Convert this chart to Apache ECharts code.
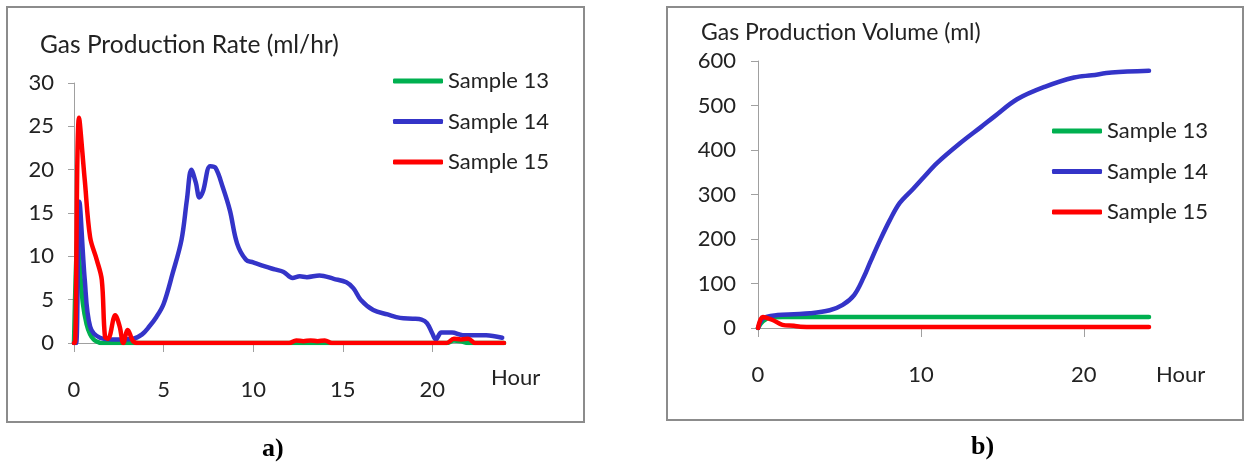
<!DOCTYPE html>
<html>
<head>
<meta charset="utf-8">
<script src="https://cdn.jsdelivr.net/npm/echarts@6/dist/echarts.min.js"></script>
<style>
html,body{margin:0;padding:0;background:#fff;}
#chart{width:1244px;height:468px;}
</style>
</head>
<body>
<div id="chart"></div>
<script>
// ---------- Data ----------
const seriesNames = ['Sample 13', 'Sample 14', 'Sample 15'];
const seriesColors = ['#00B050', '#3434C8', '#FF0000'];

// a) Gas production rate (ml/hr) vs hour
const rateHours13 = [0, 0.1, 0.2, 0.35, 0.5, 0.7, 0.9, 1.1, 1.3, 1.5, 3, 12, 20.8, 21.2, 21.6, 22, 24];
const rate13      = [0, 8, 12, 8, 4.5, 2.2, 1.0, 0.4, 0.15, 0, 0, 0, 0, 0.3, 0.2, 0, 0];

const rateHours14 = [0, 0.12, 0.3, 0.6, 0.9, 1.45, 2.2, 3.3, 3.8, 4.2, 4.6, 5.0, 5.5, 6.0, 6.3, 6.55, 6.8, 7.0, 7.2, 7.6, 7.9, 8.3, 8.7, 9.1, 9.6, 10, 10.7, 11.2, 11.7, 12.2, 12.6, 13.0, 13.7, 14.5, 15.2, 15.6, 16.0, 16.7, 17.5, 18.2, 18.9, 19.4, 19.7, 20.0, 20.2, 20.5, 21.1, 21.7, 22.5, 23.0, 23.9];
const rate14      = [0, 0, 16.3, 7.3, 1.9, 0.6, 0.4, 0.5, 1.0, 1.9, 3.0, 4.5, 8.0, 11.9, 16.5, 20.0, 18.5, 16.8, 17.5, 20.4, 20.2, 18.0, 15.3, 11.5, 9.6, 9.3, 8.8, 8.5, 8.2, 7.5, 7.7, 7.6, 7.8, 7.4, 7.0, 6.3, 5.0, 3.8, 3.3, 2.9, 2.8, 2.7, 2.3, 1.1, 0.4, 1.2, 1.2, 0.9, 0.9, 0.9, 0.6];

const rateHours15 = [0, 0.05, 0.28, 0.6, 0.9, 1.27, 1.55, 1.73, 1.9, 2.3, 2.55, 2.75, 3.0, 3.3, 3.6, 12.0, 12.4, 12.8, 13.2, 13.6, 14.0, 14.4, 20.8, 21.2, 21.6, 22.0, 22.4, 24];
const rate15      = [0, 0, 26, 18.8, 12.2, 9.6, 7.3, 0.7, 0.5, 3.2, 1.9, 0, 1.5, 0.2, 0, 0, 0.3, 0.2, 0.3, 0.2, 0.3, 0, 0, 0.5, 0.4, 0.5, 0, 0];

// b) Gas production volume (ml) vs hour
const volHours13 = [0, 0.3, 0.8, 1.5, 24];
const vol13      = [0, 15, 24, 25, 25];

const volHours14 = [0, 0.33, 1.2, 2.2, 3.2, 4.4, 5.2, 5.9, 6.5, 6.9, 7.5, 8.1, 8.7, 9.5, 10.2, 11.0, 12.4, 13.7, 14.5, 15.9, 17.6, 19.4, 20.5, 21.7, 24.0];
const vol14      = [0, 22, 29, 31, 33, 40, 52, 74, 115, 149, 198, 243, 281, 312, 340, 371, 415, 452, 475, 514, 542, 563, 568, 574, 578];

const volHours15 = [0, 0.3, 0.9, 1.5, 2.2, 2.6, 3.5, 24];
const vol15      = [0, 25, 18, 7, 5, 3, 2.5, 2.5];

// Axis ticks
const rateXTicks = [0, 5, 10, 15, 20];
const volXTicks = [0, 10, 20];

const titleA = 'Gas Production Rate (ml/hr)';
const titleB = 'Gas Production Volume (ml)';
const xName = 'Hour';

// ---------- Build ----------
const zip = (xs, ys) => xs.map((x, i) => [x, ys[i]]);
const FONT = 'Lato';
const TXT = '#222';

function lineSeries(name, color, data, idx) {
  return {
    name, type: 'line', xAxisIndex: idx, yAxisIndex: idx,
    data, smooth: 0.35, showSymbol: false, symbol: 'none',
    lineStyle: { color, width: 4.5, cap: 'round', join: 'round' },
    itemStyle: { color },
    emphasis: { disabled: true }, animation: false
  };
}

const axisCommon = {
  axisLine: { show: true, lineStyle: { color: '#a0a0a0', width: 1 } },
  splitLine: { show: false },
  axisLabel: { color: TXT, fontFamily: FONT, fontSize: 22 }
};

const legendCommon = {
  data: seriesNames, orient: 'vertical', padding: 0, itemWidth: 50, itemHeight: 5, itemGap: 18.5,
  icon: 'roundRect', textStyle: { fontFamily: FONT, fontSize: 22, color: TXT, lineHeight: 22 }, selectedMode: false
};

const chart = echarts.init(document.getElementById('chart'), null, { renderer: 'canvas' });
chart.setOption({
  backgroundColor: '#fff',
  animation: false,
  textStyle: { fontFamily: FONT },
  title: [
    { text: titleA, left: 40, top: 33, padding: 0, textStyle: { fontFamily: FONT, fontSize: 24.5, fontWeight: 'normal', color: TXT } },
    { text: titleB, left: 701, top: 21, padding: 0, textStyle: { fontFamily: FONT, fontSize: 23, fontWeight: 'normal', color: TXT } }
  ],
  legend: [
    Object.assign({}, legendCommon, { left: 393, top: 70 }),
    Object.assign({}, legendCommon, { left: 1052, top: 120 })
  ],
  grid: [
    { left: 74, top: 83, width: 430, height: 260, containLabel: false },
    { left: 758, top: 61, width: 391, height: 267, containLabel: false }
  ],
  xAxis: [
    Object.assign({}, axisCommon, {
      type: 'value', gridIndex: 0, min: 0, max: 24, interval: 5,
      axisTick: { show: true, inside: false, length: 9, lineStyle: { color: '#a0a0a0' }, customValues: rateXTicks },
      axisLabel: Object.assign({}, axisCommon.axisLabel, { margin: 36, customValues: rateXTicks })
    }),
    Object.assign({}, axisCommon, {
      type: 'value', gridIndex: 1, min: 0, max: 24, interval: 10,
      axisTick: { show: true, inside: false, length: 9, lineStyle: { color: '#a0a0a0' }, customValues: volXTicks },
      axisLabel: Object.assign({}, axisCommon.axisLabel, { margin: 36, customValues: volXTicks })
    })
  ],
  yAxis: [
    Object.assign({}, axisCommon, {
      type: 'value', gridIndex: 0, min: 0, max: 30, interval: 5,
      axisTick: { show: true, inside: false, length: 6, lineStyle: { color: '#a0a0a0' } },
      axisLabel: Object.assign({}, axisCommon.axisLabel, { margin: 20 })
    }),
    Object.assign({}, axisCommon, {
      type: 'value', gridIndex: 1, min: 0, max: 600, interval: 100,
      axisTick: { show: true, inside: false, length: 7, lineStyle: { color: '#a0a0a0' } },
      axisLabel: Object.assign({}, axisCommon.axisLabel, { margin: 22 })
    })
  ],
  series: [
    lineSeries(seriesNames[0], seriesColors[0], zip(rateHours13, rate13), 0),
    lineSeries(seriesNames[1], seriesColors[1], zip(rateHours14, rate14), 0),
    lineSeries(seriesNames[2], seriesColors[2], zip(rateHours15, rate15), 0),
    lineSeries(seriesNames[0], seriesColors[0], zip(volHours13, vol13), 1),
    lineSeries(seriesNames[1], seriesColors[1], zip(volHours14, vol14), 1),
    lineSeries(seriesNames[2], seriesColors[2], zip(volHours15, vol15), 1)
  ],
  graphic: [
    { type: 'rect', shape: { x: 7, y: 7, width: 577, height: 415 }, style: { fill: null, stroke: '#8c8c8c', lineWidth: 2 }, silent: true, z: -1 },
    { type: 'rect', shape: { x: 667, y: 7, width: 576, height: 413 }, style: { fill: null, stroke: '#8c8c8c', lineWidth: 2 }, silent: true, z: -1 },
    { type: 'text', left: 491, top: 367, style: { text: xName, font: '22px ' + FONT, fill: TXT } },
    { type: 'text', left: 1156, top: 364, style: { text: xName, font: '22px ' + FONT, fill: TXT } },
    { type: 'text', left: 262, top: 436, style: { text: 'a)', font: 'bold 26px "Liberation Serif"', fill: '#000' } },
    { type: 'text', left: 971, top: 434, style: { text: 'b)', font: 'bold 26px "Liberation Serif"', fill: '#000' } }
  ]
});
</script>
</body>
</html>
